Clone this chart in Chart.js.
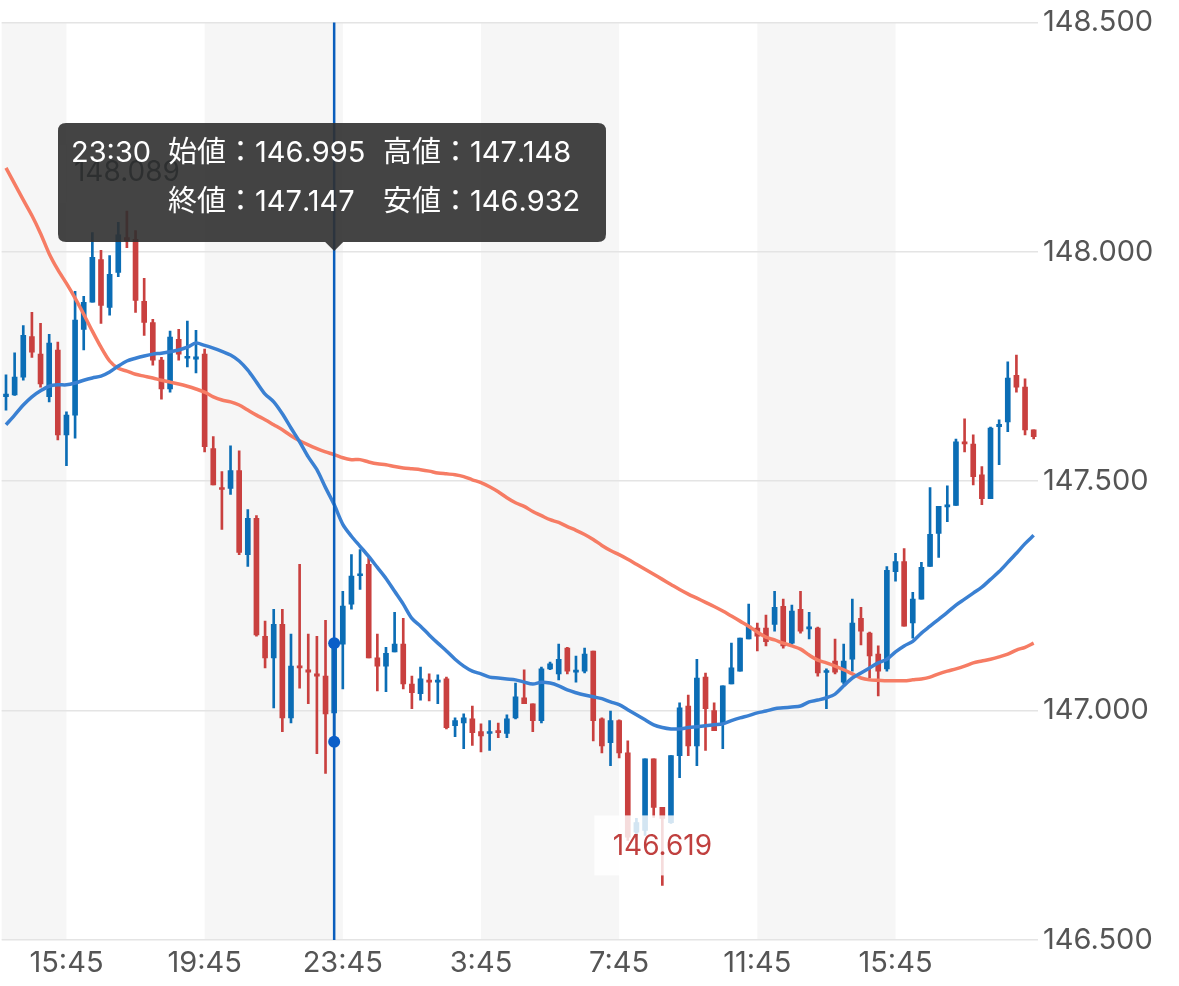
<!DOCTYPE html>
<html lang="ja">
  <head>
    <meta charset="UTF-8" />
    <title>15分足チャート</title>
    <script src="https://cdn.jsdelivr.net/npm/chart.js"></script>
    <style>
      html,
      body {
        margin: 0;
        padding: 0;
        background: #fff;
      }
      .chart-wrap {
        position: relative;
        width: 1179px;
        height: 986px;
      }
    </style>
  </head>
  <body>
    <div class="chart-wrap">
      <canvas id="candleChart"></canvas>
    </div>

    <script>
      // OHLC, 15 minute bars starting 14:00
      const opens = [
        147.684, 147.688, 147.727, 147.815, 147.777, 147.684, 147.786, 147.601, 147.644, 147.831,
        147.890, 147.983, 147.879, 147.955, 148.031, 148.027, 147.892, 147.846, 147.764, 147.701,
        147.809, 147.768, 147.766, 147.777, 147.571, 147.486, 147.484, 147.523, 147.340, 147.419,
        147.162, 147.115, 147.188, 146.984, 147.097, 147.089, 147.080, 147.075, 146.995, 147.145,
        147.232, 147.294, 147.319, 147.115, 147.097, 147.128, 147.145, 147.058, 147.037, 147.065,
        147.062, 147.069, 146.967, 146.973, 146.982, 146.954, 146.950, 146.956, 146.950, 146.984,
        147.028, 147.015, 146.978, 147.091, 147.080, 147.136, 147.084, 147.086, 147.130, 146.982,
        146.930, 146.978, 146.908, 146.735, 146.739, 146.895, 146.789, 146.756, 146.902, 147.010,
        146.923, 147.073, 147.000, 146.971, 147.058, 147.086, 147.156, 147.180, 147.180, 147.188,
        147.227, 147.147, 147.221, 147.178, 147.180, 147.083, 147.108, 147.062, 147.112, 147.201,
        147.169, 147.123, 147.091, 147.303, 147.325, 147.191, 147.243, 147.314, 147.386, 147.444,
        147.447, 147.586, 147.581, 147.514, 147.462, 147.619, 147.629, 147.731, 147.705, 147.612
      ];
      const highs = [
        147.732, 147.780, 147.839, 147.868, 147.844, 147.820, 147.803, 147.651, 147.914, 147.903,
        148.042, 148.003, 147.992, 148.064, 148.089, 148.046, 147.942, 147.853, 147.770, 147.827,
        147.831, 147.849, 147.829, 147.788, 147.597, 147.521, 147.577, 147.566, 147.438, 147.425,
        147.195, 147.221, 147.221, 147.167, 147.319, 147.167, 147.162, 147.197, 147.148, 147.260,
        147.340, 147.351, 147.336, 147.167, 147.138, 147.214, 147.201, 147.075, 147.095, 147.080,
        147.078, 147.073, 146.984, 146.993, 147.010, 146.971, 146.978, 146.973, 146.991, 147.060,
        147.089, 147.015, 147.095, 147.106, 147.145, 147.138, 147.119, 147.136, 147.130, 146.984,
        146.999, 146.980, 146.934, 146.765, 146.895, 146.895, 146.789, 146.902, 147.017, 147.034,
        147.112, 147.082, 147.017, 147.054, 147.147, 147.158, 147.232, 147.191, 147.208, 147.260,
        147.243, 147.230, 147.260, 147.214, 147.182, 147.091, 147.156, 147.145, 147.243, 147.225,
        147.171, 147.141, 147.314, 147.343, 147.353, 147.258, 147.323, 147.486, 147.445, 147.490,
        147.592, 147.636, 147.601, 147.532, 147.618, 147.634, 147.760, 147.775, 147.723, 147.612
      ];
      const lows = [
        147.655, 147.687, 147.720, 147.770, 147.705, 147.673, 147.590, 147.534, 147.594, 147.786,
        147.890, 147.844, 147.862, 147.946, 148.009, 147.868, 147.818, 147.753, 147.679, 147.694,
        147.764, 147.749, 147.736, 147.564, 147.492, 147.395, 147.471, 147.340, 147.314, 147.162,
        147.093, 147.006, 146.954, 146.973, 147.049, 147.015, 146.906, 146.863, 146.932, 147.047,
        147.221, 147.264, 147.115, 147.043, 147.041, 147.128, 147.047, 147.004, 147.023, 147.021,
        147.015, 146.960, 146.943, 146.917, 146.924, 146.910, 146.913, 146.941, 146.941, 146.982,
        147.015, 146.954, 146.973, 147.089, 147.067, 147.080, 147.062, 147.082, 146.934, 146.908,
        146.880, 146.897, 146.717, 146.728, 146.728, 146.767, 146.619, 146.754, 146.854, 146.902,
        146.880, 146.913, 146.956, 146.917, 147.058, 147.086, 147.156, 147.130, 147.141, 147.173,
        147.136, 147.145, 147.169, 147.156, 147.075, 147.004, 147.080, 147.058, 147.086, 147.143,
        147.071, 147.032, 147.086, 147.282, 147.184, 147.158, 147.243, 147.314, 147.334, 147.412,
        147.447, 147.564, 147.492, 147.449, 147.462, 147.536, 147.608, 147.694, 147.601, 147.592
      ];
      const closes = [
        147.690, 147.727, 147.818, 147.781, 147.712, 147.801, 147.601, 147.644, 147.851, 147.890,
        147.988, 147.883, 147.951, 148.037, 148.024, 147.894, 147.846, 147.764, 147.701, 147.814,
        147.777, 147.770, 147.771, 147.575, 147.492, 147.482, 147.523, 147.345, 147.419, 147.165,
        147.115, 147.188, 146.984, 147.097, 147.093, 147.084, 147.075, 146.993, 147.147, 147.228,
        147.293, 147.298, 147.115, 147.097, 147.125, 147.145, 147.058, 147.039, 147.069, 147.062,
        147.065, 146.963, 146.978, 146.984, 146.952, 146.945, 146.954, 146.952, 146.982, 147.030,
        147.015, 146.978, 147.091, 147.102, 147.112, 147.086, 147.088, 147.123, 146.978, 146.923,
        146.978, 146.908, 146.724, 146.756, 146.895, 146.789, 146.765, 146.902, 147.006, 146.923,
        147.071, 147.004, 146.956, 147.054, 147.093, 147.158, 147.184, 147.162, 147.150, 147.225,
        147.141, 147.217, 147.173, 147.182, 147.082, 147.087, 147.084, 147.108, 147.191, 147.173,
        147.119, 147.086, 147.306, 147.325, 147.184, 147.243, 147.312, 147.384, 147.445, 147.448,
        147.586, 147.581, 147.510, 147.462, 147.616, 147.624, 147.725, 147.705, 147.612, 147.597
      ];

      // moving averages (short = blue, long = salmon)
      const maShort = [
        147.623, 147.644, 147.666, 147.684, 147.697, 147.707, 147.710, 147.710, 147.714, 147.720,
        147.725, 147.729, 147.738, 147.751, 147.762, 147.768, 147.773, 147.777, 147.779, 147.782,
        147.786, 147.792, 147.801, 147.796, 147.790, 147.783, 147.775, 147.762, 147.742, 147.716,
        147.690, 147.673, 147.647, 147.616, 147.586, 147.553, 147.525, 147.486, 147.449, 147.406,
        147.380, 147.358, 147.336, 147.312, 147.288, 147.260, 147.232, 147.201, 147.184, 147.165,
        147.147, 147.130, 147.112, 147.097, 147.086, 147.080, 147.073, 147.071, 147.069, 147.067,
        147.062, 147.058, 147.062, 147.060, 147.054, 147.045, 147.039, 147.034, 147.030, 147.026,
        147.019, 147.013, 147.002, 146.991, 146.980, 146.969, 146.963, 146.960, 146.960, 146.963,
        146.965, 146.967, 146.969, 146.971, 146.978, 146.984, 146.989, 146.995, 146.999, 147.004,
        147.006, 147.008, 147.010, 147.019, 147.023, 147.028, 147.036, 147.054, 147.071, 147.082,
        147.093, 147.104, 147.112, 147.128, 147.141, 147.151, 147.169, 147.184, 147.199, 147.214,
        147.230, 147.243, 147.256, 147.269, 147.286, 147.303, 147.323, 147.343, 147.364, 147.382
      ];
      const maLong = [
        148.183, 148.148, 148.113, 148.079, 148.040, 147.996, 147.961, 147.931, 147.899, 147.864,
        147.827, 147.792, 147.762, 147.746, 147.740, 147.733, 147.729, 147.725, 147.720, 147.716,
        147.712, 147.707, 147.701, 147.694, 147.684, 147.677, 147.673, 147.666, 147.655, 147.644,
        147.634, 147.623, 147.612, 147.599, 147.588, 147.579, 147.571, 147.564, 147.558, 147.551,
        147.547, 147.547, 147.542, 147.538, 147.536, 147.532, 147.529, 147.527, 147.525, 147.522,
        147.518, 147.516, 147.514, 147.510, 147.503, 147.497, 147.488, 147.477, 147.464, 147.453,
        147.445, 147.434, 147.425, 147.416, 147.410, 147.401, 147.393, 147.384, 147.373, 147.360,
        147.349, 147.340, 147.330, 147.319, 147.308, 147.297, 147.286, 147.275, 147.264, 147.254,
        147.245, 147.236, 147.227, 147.217, 147.206, 147.195, 147.184, 147.171, 147.160, 147.154,
        147.147, 147.141, 147.134, 147.121, 147.110, 147.104, 147.097, 147.089, 147.080, 147.071,
        147.067, 147.066, 147.065, 147.065, 147.065, 147.067, 147.069, 147.073, 147.080, 147.086,
        147.091, 147.097, 147.104, 147.108, 147.112, 147.117, 147.123, 147.132, 147.138, 147.147
      ];

      const tickLabels = ["15:45", "19:45", "23:45", "3:45", "7:45", "11:45", "15:45"];
      const yTicks = [146.5, 147.0, 147.5, 148.0, 148.5];
      const activeIndex = 38; // 23:30

      const FONT = '"Inter", "Noto Sans CJK JP", sans-serif';
      const UP = "#0b6db5";
      const DOWN = "#c9403f";

      // bar times (15 min steps from 14:00)
      const times = [];
      for (let i = 0; i < opens.length; i++) {
        const m = 14 * 60 + i * 15;
        times.push((Math.floor(m / 60) % 24) + ":" + String(m % 60).padStart(2, "0"));
      }
      // indexes of the labelled ticks, skipping the unfinished block on the right
      const tickIdx = [];
      let k = 0;
      times.forEach((t, i) => {
        if (k < tickLabels.length && t === tickLabels[k]) {
          tickIdx.push(i);
          k++;
        }
      });

      const candleColors = opens.map((o, i) => (closes[i] >= o ? UP : DOWN));

      // shaded 4h blocks behind everything
      const bandsPlugin = {
        id: "bands",
        beforeDraw(chart) {
          const { ctx, chartArea, scales } = chart;
          const edges = [chartArea.left]
            .concat(tickIdx.map((i) => scales.x.getPixelForValue(i)))
            .concat([chartArea.right]);
          ctx.save();
          ctx.fillStyle = "#f6f6f6";
          for (let s = 0; s < edges.length - 1; s += 2) {
            ctx.fillRect(edges[s], chartArea.top, edges[s + 1] - edges[s], chartArea.bottom - chartArea.top);
          }
          ctx.restore();
        },
      };

      function roundRect(ctx, x, y, w, h, r) {
        ctx.beginPath();
        ctx.moveTo(x + r, y);
        ctx.lineTo(x + w - r, y);
        ctx.quadraticCurveTo(x + w, y, x + w, y + r);
        ctx.lineTo(x + w, y + h - r);
        ctx.quadraticCurveTo(x + w, y + h, x + w - r, y + h);
        ctx.lineTo(x + r, y + h);
        ctx.quadraticCurveTo(x, y + h, x, y + h - r);
        ctx.lineTo(x, y + r);
        ctx.quadraticCurveTo(x, y, x + r, y);
        ctx.closePath();
      }

      // high / low labels, crosshair and the fixed tooltip
      const overlayPlugin = {
        id: "overlay",
        afterDraw(chart) {
          const { ctx, chartArea, scales } = chart;
          const x = scales.x;
          const y = scales.y;

          ctx.save();
          ctx.font = "28px " + FONT;
          ctx.textAlign = "center";
          ctx.textBaseline = "middle";

          // max high
          const hi = highs.indexOf(Math.max(...highs));
          const hx = x.getPixelForValue(hi);
          const hy = y.getPixelForValue(highs[hi]) - 38;
          ctx.fillStyle = "rgba(255,255,255,0.8)";
          ctx.fillRect(hx - 68, hy - 28, 136, 58);
          ctx.fillStyle = "#1d2f35";
          ctx.fillText(highs[hi].toFixed(3), hx, hy);

          // min low
          const lo = lows.indexOf(Math.min(...lows));
          const lx = x.getPixelForValue(lo);
          const ly = y.getPixelForValue(lows[lo]) - 40;
          ctx.fillStyle = "rgba(255,255,255,0.82)";
          ctx.fillRect(lx - 68, ly - 30, 136, 60);
          ctx.fillStyle = "#c0403f";
          ctx.fillText(lows[lo].toFixed(3), lx, ly + 1);

          // crosshair
          const cx = x.getPixelForValue(activeIndex);
          ctx.strokeStyle = "#0a5ebd";
          ctx.lineWidth = 2.5;
          ctx.beginPath();
          ctx.moveTo(cx, chartArea.top);
          ctx.lineTo(cx, chartArea.bottom);
          ctx.stroke();
          ctx.fillStyle = "#0a5ec8";
          [closes[activeIndex], lows[activeIndex]].forEach((v) => {
            ctx.beginPath();
            ctx.arc(cx, y.getPixelForValue(v), 6, 0, Math.PI * 2);
            ctx.fill();
          });

          // tooltip box with caret
          const bx = 58, by = 123, bw = 548, bh = 119;
          ctx.fillStyle = "rgba(48,48,48,0.9)";
          roundRect(ctx, bx, by, bw, bh, 8);
          ctx.fill();
          ctx.beginPath();
          ctx.moveTo(cx - 9, by + bh);
          ctx.lineTo(cx, by + bh + 9);
          ctx.lineTo(cx + 9, by + bh);
          ctx.closePath();
          ctx.fill();

          ctx.fillStyle = "#ffffff";
          ctx.textAlign = "left";
          ctx.font = "29px " + FONT;
          const i = activeIndex;
          ctx.fillText(times[i], 71, 153);
          ctx.fillText("始値：" + opens[i].toFixed(3), 168, 153);
          ctx.fillText("高値：" + highs[i].toFixed(3), 383, 153);
          ctx.fillText("終値：" + closes[i].toFixed(3), 168, 202);
          ctx.fillText("安値：" + lows[i].toFixed(3), 383, 202);
          ctx.restore();
        },
      };

      new Chart(document.getElementById("candleChart"), {
        type: "bar",
        data: {
          labels: times,
          datasets: [
            {
              type: "line",
              label: "MA short",
              data: maShort,
              borderColor: "#3a80d2",
              borderWidth: 3.5,
              pointRadius: 0,
              tension: 0.3,
              order: 0,
            },
            {
              type: "line",
              label: "MA long",
              data: maLong,
              borderColor: "#f67c64",
              borderWidth: 3.5,
              pointRadius: 0,
              tension: 0.3,
              order: 0,
            },
            {
              label: "body",
              data: opens.map((o, i) => [o, closes[i]]),
              backgroundColor: candleColors,
              barThickness: 5,
              minBarLength: 2,
              grouped: false,
              order: 1,
            },
            {
              label: "wick",
              data: highs.map((h, i) => [lows[i], h]),
              backgroundColor: candleColors,
              barThickness: 2,
              grouped: false,
              order: 2,
            },
          ],
        },
        options: {
          responsive: true,
          maintainAspectRatio: false,
          animation: false,
          events: [],
          layout: { autoPadding: false, padding: { top: 19, left: 0, right: 0, bottom: 0 } },
          plugins: {
            legend: { display: false },
            tooltip: { enabled: false },
          },
          scales: {
            x: {
              offset: true,
              grid: { display: false, drawTicks: false },
              border: { display: false },
              ticks: {
                autoSkip: false,
                maxRotation: 0,
                padding: 6,
                color: "#555",
                font: { family: FONT, size: 29 },
                callback: (v, i) => (tickIdx.includes(i) ? times[i] : ""),
              },
              afterFit: (scale) => {
                scale.height = 46;
              },
            },
            y: {
              position: "right",
              min: yTicks[0],
              max: yTicks[yTicks.length - 1],
              afterBuildTicks: (scale) => {
                scale.ticks = yTicks.map((v) => ({ value: v }));
              },
              grid: { color: "#e4e4e4", lineWidth: 1.5, drawTicks: false },
              border: { display: false },
              ticks: {
                padding: 5,
                color: "#555",
                font: { family: FONT, size: 29 },
                callback: (v) => Number(v).toFixed(3),
              },
              afterFit: (scale) => {
                scale.width = 141;
              },
            },
          },
        },
        plugins: [bandsPlugin, overlayPlugin],
      });
    </script>
  </body>
</html>
